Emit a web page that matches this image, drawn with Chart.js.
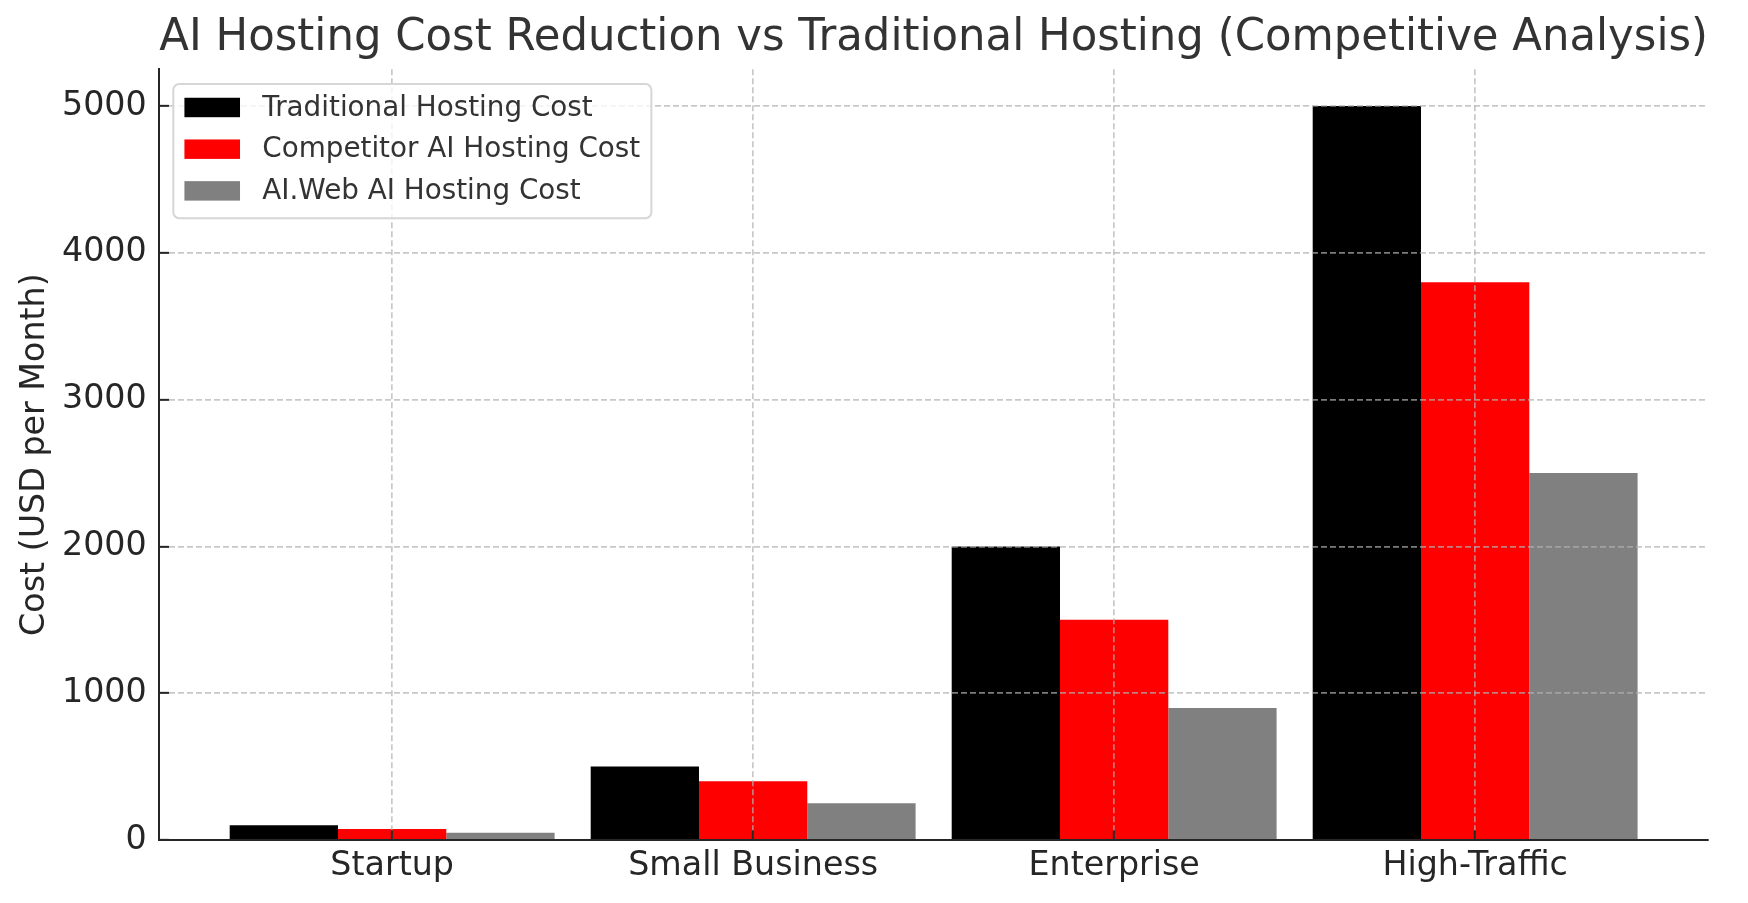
<!DOCTYPE html>
<html>
<head>
<meta charset="utf-8">
<script src="https://cdn.jsdelivr.net/npm/chart.js@4"></script>
<style>
  html, body { margin: 0; padding: 0; background: #ffffff; }
  #wrap { width: 1748px; height: 903px; }
</style>
</head>
<body>
<div id="wrap"><canvas id="c" width="1748" height="903"></canvas></div>
<script>
// ---- data ----
const categories = ["Startup", "Small Business", "Enterprise", "High-Traffic"];
const traditionalCost = [100, 500, 2000, 5000];
const competitorAICost = [75, 400, 1500, 3800];
const aiWebCost = [50, 250, 900, 2500];
const seriesNames = ["Traditional Hosting Cost", "Competitor AI Hosting Cost", "AI.Web AI Hosting Cost"];
const yTickValues = [0, 1000, 2000, 3000, 4000, 5000];
const titleText = "AI Hosting Cost Reduction vs Traditional Hosting (Competitive Analysis)";
const yAxisLabel = "Cost (USD per Month)";

// ---- styles ----
const FONT = '"DejaVu Sans", sans-serif';
const seriesColors = ["#000000", "#ff0000", "#808080"];
const gridColor = "rgba(176,176,176,0.7)";
const axisColor = "#262626";

const toPoints = (arr) => arr.map((v, i) => ({ x: i, y: v }));
const seriesValues = [traditionalCost, competitorAICost, aiWebCost];

const legendPlugin = {
  id: 'mplLegend',
  afterDraw(chart) {
    const { ctx, chartArea } = chart;
    const fs = 27.8;
    ctx.save();
    ctx.font = `${fs}px ${FONT}`;
    const ds = chart.data.datasets;
    const pad = 0.4 * fs;
    const handleW = 2 * fs, handleH = 0.7 * fs, textPad = 0.8 * fs;
    const rowH = 41.7;
    const widths = ds.map(d => ctx.measureText(d.label).width);
    const boxX = chartArea.left + 14, boxY = chartArea.top + 14.7;
    const boxW = pad + handleW + textPad + Math.max(...widths) + pad;
    const boxH = 134.3;
    ctx.beginPath();
    ctx.roundRect(boxX, boxY, boxW, boxH, 6);
    ctx.fillStyle = "rgba(255,255,255,0.8)";
    ctx.fill();
    ctx.lineWidth = 2;
    ctx.strokeStyle = "#d6d6d6";
    ctx.stroke();
    ds.forEach((d, i) => {
      const cy = boxY + 23.5 + i * rowH;
      ctx.fillStyle = d.backgroundColor;
      ctx.fillRect(boxX + pad, cy - handleH / 2, handleW, handleH);
      ctx.fillStyle = "#333333";
      ctx.textBaseline = "middle";
      ctx.textAlign = "left";
      ctx.fillText(d.label, boxX + pad + handleW + textPad, cy + 1);
    });
    ctx.restore();
  }
};

new Chart(document.getElementById('c'), {
  type: 'bar',
  data: {
    datasets: seriesNames.map((name, k) => ({
      label: name,
      data: toPoints(seriesValues[k]),
      backgroundColor: seriesColors[k],
      borderWidth: 0,
      barPercentage: 1.0,
      categoryPercentage: 0.9
    }))
  },
  options: {
    responsive: false,
    animation: false,
    events: [],
    layout: { padding: { left: 0, right: 40, top: 0, bottom: 0 } },
    plugins: {
      legend: { display: false },
      tooltip: { enabled: false },
      title: {
        display: true,
        text: titleText,
        fullSize: false,
        color: "#333333",
        font: { family: FONT, size: 44.4, weight: 'normal' },
        padding: { top: 12, bottom: 4 }
      }
    },
    scales: {
      x: {
        type: 'linear',
        offset: false,
        min: -0.645,
        max: 3.645,
        afterBuildTicks: (axis) => { axis.ticks = categories.map((_, i) => ({ value: i })); },
        afterFit: (scale) => { scale.height = 63; },
        ticks: {
          callback: (v) => categories[v],
          color: axisColor,
          font: { family: FONT, size: 33.3 },
          padding: 16.2,
          maxRotation: 0,
          autoSkip: false
        },
        grid: {
          offset: false,
          z: 1,
          color: gridColor,
          lineWidth: 1.7,
          drawTicks: true,
          tickLength: -9.7,
          tickColor: axisColor,
          tickWidth: 2,
          tickBorderDash: []
        },
        border: { display: true, color: axisColor, width: 2, dash: [6, 3], z: 2 }
      },
      y: {
        type: 'linear',
        min: 0,
        max: 5250,
        afterBuildTicks: (axis) => { axis.ticks = yTickValues.map(v => ({ value: v })); },
        afterFit: (scale) => { scale.width = 159.3; },
        ticks: {
          callback: (v) => String(v),
          color: axisColor,
          font: { family: FONT, size: 33.3 },
          padding: 22.3
        },
        grid: {
          z: 1,
          color: gridColor,
          lineWidth: 1.7,
          drawTicks: true,
          tickLength: -9.7,
          tickColor: axisColor,
          tickWidth: 2,
          tickBorderDash: []
        },
        border: { display: true, color: axisColor, width: 2, dash: [6, 3], z: 2 },
        title: {
          display: true,
          text: yAxisLabel,
          color: axisColor,
          font: { family: FONT, size: 33.3 },
          padding: { top: 15, bottom: 0 }
        }
      }
    }
  },
  plugins: [legendPlugin]
});
</script>
</body>
</html>
